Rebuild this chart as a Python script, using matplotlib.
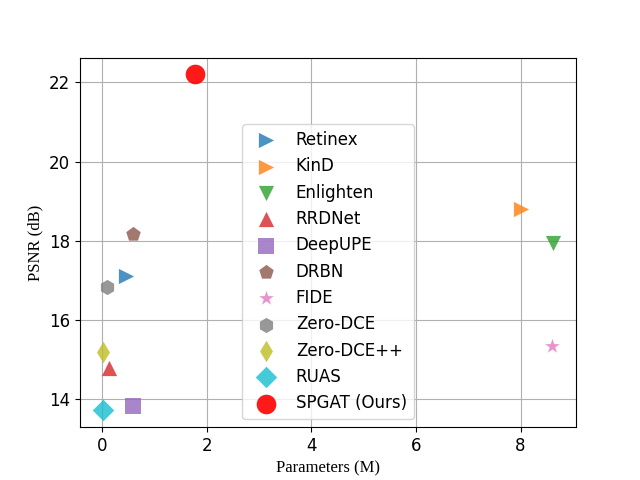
import matplotlib
matplotlib.use("Agg")
import matplotlib.pyplot as plt

methods = ["Retinex", "KinD", "Enlighten", "RRDNet", "DeepUPE", "DRBN",
           "FIDE", "Zero-DCE", "Zero-DCE++", "RUAS", "SPGAT (Ours)"]
params = [0.45, 8.0, 8.63, 0.13, 0.59, 0.58, 8.6, 0.08, 0.01, 0.003, 1.78]
psnr = [17.12, 18.8, 17.94, 14.8, 13.82, 18.18, 15.35, 16.84, 15.2, 13.72, 22.2]
markers = [">", ">", "v", "^", "s", "p", "*", "h", "d", "D", "o"]
colors = ["C0", "C1", "C2", "C3", "C4", "C5", "C6", "C7", "C8", "C9", "red"]

fig, ax = plt.subplots(figsize=(6.4, 4.8), dpi=100)
for i, name in enumerate(methods):
    ours = name.startswith("SPGAT")
    ax.scatter(params[i], psnr[i], marker=markers[i], color=colors[i],
               s=200 if ours else 120, alpha=0.9 if ours else 0.8,
               label=name, zorder=3, linewidths=0)

ax.grid(True)
ax.set_axisbelow(True)
ax.set_xlabel("Parameters (M)", fontfamily="Liberation Serif", fontsize=12)
ax.set_ylabel("PSNR (dB)", fontfamily="Liberation Serif", fontsize=12)
ax.tick_params(labelsize=12)
ax.legend(loc="lower center", fontsize=12)

fig.savefig("out.png")
